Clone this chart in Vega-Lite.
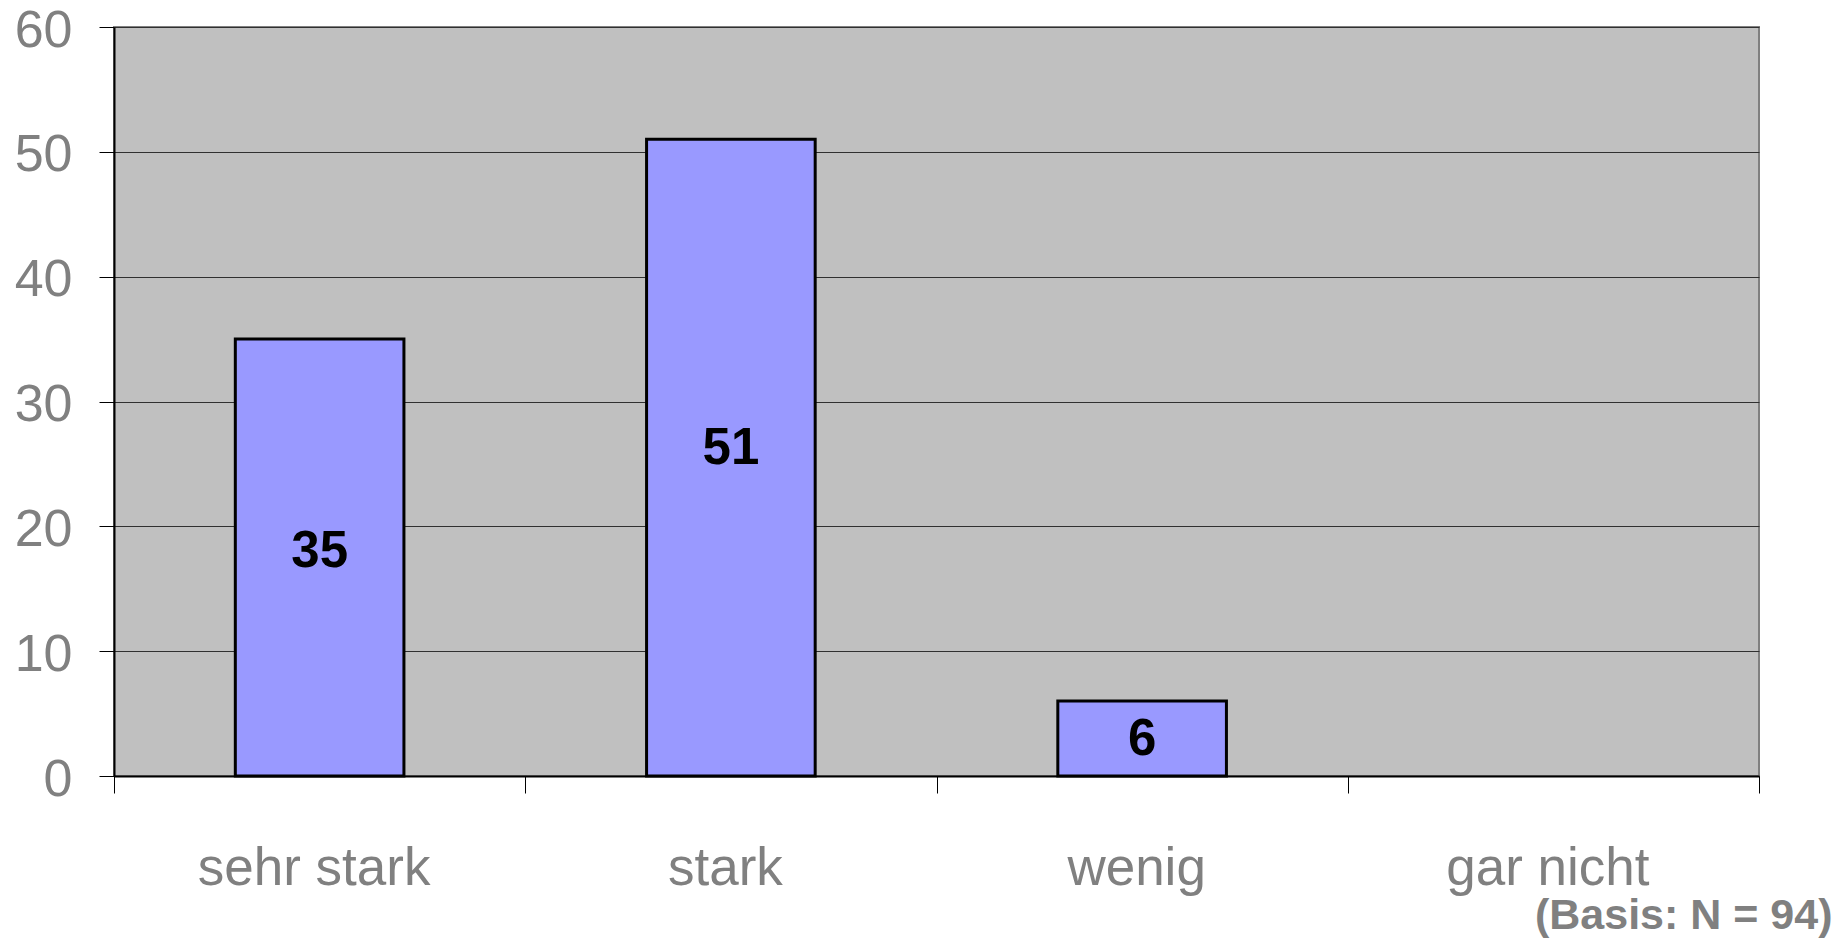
{
  "$schema": "https://vega.github.io/schema/vega-lite/v6.json",
  "width": 1645,
  "height": 749,
  "autosize": {"type": "none"},
  "padding": {"left": 114, "top": 27, "right": 78, "bottom": 164},
  "background": "white",
  "config": {
    "font": "Liberation Sans",
    "view": {"fill": "#C0C0C0", "stroke": "#808080", "strokeWidth": 2}
  },
  "data": {
    "values": [
      {"Antwort": "sehr stark", "Anzahl": 35},
      {"Antwort": "stark", "Anzahl": 51},
      {"Antwort": "wenig", "Anzahl": 6},
      {"Antwort": "gar nicht", "Anzahl": null}
    ]
  },
  "layer": [
    {
      "mark": {"type": "bar", "fill": "#9999FF", "stroke": "black", "strokeWidth": 3, "width": {"band": 0.41}},
      "encoding": {
        "x": {
          "field": "Antwort", "type": "nominal", "sort": null,
          "scale": {"domain": ["sehr stark", "stark", "wenig", "gar nicht"], "paddingInner": 0, "paddingOuter": 0},
          "axis": {
            "title": "(Basis: N = 94)", "titleFontSize": 43, "titleFontWeight": "bold", "titleColor": "#808080",
            "titleX": 1718, "titleY": 152, "titleAlign": "right", "titleBaseline": "alphabetic", "titleAnchor": null,
            "labelFontSize": 53, "labelColor": "#808080", "labelAngle": 0, "labelBaseline": "alphabetic", "labelPadding": 91, "labelLimit": 0, "labelOffset": -6,
            "tickBand": "extent", "tickSize": 17, "tickColor": "black", "tickWidth": 1,
            "domainColor": "black", "domainWidth": 2, "grid": false
          }
        },
        "y": {
          "field": "Anzahl", "type": "quantitative",
          "scale": {"domain": [0, 60], "nice": false},
          "axis": {
            "title": null, "values": [0, 10, 20, 30, 40, 50, 60],
            "labelFontSize": 52, "labelColor": "#808080", "labelPadding": 27, "labelOffset": 3,
            "tickSize": 15, "tickColor": "black", "tickWidth": 1,
            "domainColor": "black", "domainWidth": 2,
            "grid": true, "gridColor": "#303030", "gridWidth": 1
          }
        }
      }
    },
    {
      "mark": {"type": "text", "fontSize": 51, "fontWeight": "bold", "color": "black", "baseline": "middle", "align": "center"},
      "encoding": {
        "x": {"field": "Antwort", "type": "nominal", "sort": null,
              "scale": {"domain": ["sehr stark", "stark", "wenig", "gar nicht"], "paddingInner": 0, "paddingOuter": 0}},
        "y": {"field": "Anzahl", "type": "quantitative", "scale": {"domain": [0.5, 116], "nice": false, "zero": false}, "axis": null},
        "text": {"field": "Anzahl", "type": "quantitative"}
      }
    }
  ],
  "resolve": {"scale": {"y": "independent"}}
}
